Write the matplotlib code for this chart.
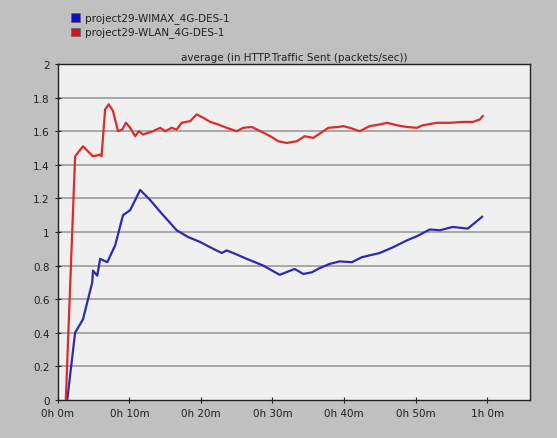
import matplotlib

matplotlib.use("Agg")
import matplotlib.pyplot as plt

# time in minutes, values in packets/sec
wimax_t = [1.3, 2.4, 3.5, 4.8, 4.9, 5.5, 5.9, 6.9, 8.0, 9.1, 10.1, 11.5, 12.9, 14.3, 16.6,
           18.2, 19.9, 21.7, 22.9, 23.6, 24.5, 26.4, 28.7, 31.0, 33.1, 34.3, 35.5, 36.6,
           38.0, 39.4, 41.1, 42.5, 45.0, 46.9, 48.8, 50.2, 52.0, 53.4, 55.2, 57.3, 59.3]
wimax_v = [0.0, 0.40, 0.48, 0.70, 0.77, 0.74, 0.84, 0.82, 0.92, 1.10, 1.13, 1.25, 1.19, 1.12,
           1.01, 0.97, 0.94, 0.90, 0.875, 0.89, 0.875, 0.84, 0.80, 0.745, 0.78, 0.75, 0.76,
           0.785, 0.81, 0.825, 0.82, 0.85, 0.875, 0.91, 0.95, 0.975, 1.015, 1.01, 1.03, 1.02,
           1.09]

wlan_t = [1.1, 2.4, 3.5, 4.9, 5.9, 6.1, 6.6, 7.1, 7.7, 8.4, 9.0, 9.5, 10.1, 10.8, 11.3, 11.9,
          13.3, 14.3, 15.0, 15.9, 16.6, 17.3, 18.5, 19.4, 20.3, 21.3, 22.4, 23.6, 25.0, 25.9,
          27.1, 28.3, 29.7, 30.8, 32.0, 33.4, 34.5, 35.7, 36.6, 37.8, 39.2, 39.9, 40.8, 42.2,
          43.6, 45.0, 46.0, 47.4, 48.8, 50.2, 51.0, 53.0, 54.8, 56.6, 58.0, 59.0, 59.4]
wlan_v = [0.0, 1.45, 1.51, 1.45, 1.46, 1.45, 1.73, 1.76, 1.72, 1.60, 1.61, 1.65, 1.62, 1.57,
          1.60, 1.58, 1.60, 1.62, 1.60, 1.62, 1.61, 1.65, 1.66, 1.70, 1.68, 1.655, 1.64, 1.62,
          1.60, 1.62, 1.625, 1.60, 1.57, 1.54, 1.53, 1.54, 1.57, 1.56, 1.585, 1.62, 1.625,
          1.63, 1.62, 1.60, 1.63, 1.64, 1.65, 1.635, 1.625, 1.62, 1.635, 1.65, 1.65, 1.655,
          1.655, 1.67, 1.69]

x_ticks = [0, 10, 20, 30, 40, 50, 60]
x_labels = ["0h 0m", "0h 10m", "0h 20m", "0h 30m", "0h 40m", "0h 50m", "1h 0m"]
y_ticks = [0, 0.2, 0.4, 0.6, 0.8, 1, 1.2, 1.4, 1.6, 1.8, 2]
y_labels = ["0", "0.2", "0.4", "0.6", "0.8", "1", "1.2", "1.4", "1.6", "1.8", "2"]

series = [
    ("project29-WIMAX_4G-DES-1", wimax_t, wimax_v, "#2a2ab4", "#1010c0"),
    ("project29-WLAN_4G-DES-1", wlan_t, wlan_v, "#e02a2a", "#c81818"),
]

plt.rcParams["font.family"] = ["DejaVu Sans"]

fig = plt.figure(figsize=(5.57, 4.39), dpi=100, facecolor="#c0c0c0")
ax = fig.add_axes([0.104, 0.0866, 0.8475, 0.7654])
ax.set_facecolor("#f0f0f0")

for yv in y_ticks[1:-1]:
    ax.axhline(yv, color="#a8a8a8", linewidth=1.4, zorder=1)

for name, t, v, col, _ in series:
    ax.plot(t, v, color=col, linewidth=1.6, zorder=3)

ax.set_xlim(0, 66)
ax.set_ylim(0, 2)
ax.set_xticks(x_ticks)
ax.set_xticklabels(x_labels)
ax.set_yticks(y_ticks)
ax.set_yticklabels(y_labels)
ax.tick_params(axis="both", labelsize=7.5, colors="#202020", direction="inout", length=5, width=0.8)
for s in ax.spines.values():
    s.set_color("#202020")
    s.set_linewidth(1.0)

ax.set_title("average (in HTTP.Traffic Sent (packets/sec))", fontsize=7.5, color="#202020", pad=3)

# legend boxes at top left of the panel
for i, (name, t, v, col, box) in enumerate(series):
    y = 0.957 - i * 0.032
    fig.patches.append(plt.Rectangle((0.128, y - 0.01), 0.015, 0.02, transform=fig.transFigure,
                                     facecolor=box, edgecolor="#606060", linewidth=0.5))
    fig.text(0.153, y, name, fontsize=7.5, va="center", ha="left", color="#202020")

fig.savefig("out.png", dpi=100, facecolor=fig.get_facecolor())
